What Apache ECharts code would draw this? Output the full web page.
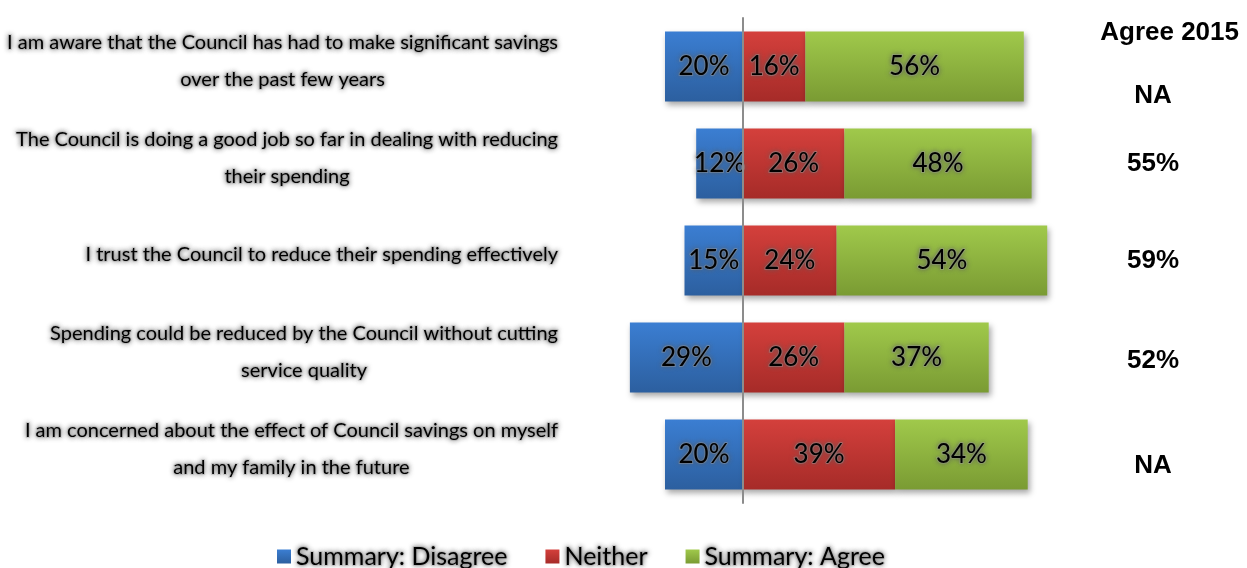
<!DOCTYPE html>
<html><head><meta charset="utf-8">
<script src="https://cdn.jsdelivr.net/npm/echarts@6/dist/echarts.min.js"></script>
<style>html,body{margin:0;padding:0;background:#fff}#c{width:1247px;height:568px}</style>
</head><body><div id="c"></div>
<script>
const categories = [
  'I am aware that the Council has had to make significant savings\nover the past few years',
  'The Council is doing a good job so far in dealing with reducing\ntheir spending',
  'I trust the Council to reduce their spending effectively',
  'Spending could be reduced by the Council without cutting\nservice quality',
  'I am concerned about the effect of Council savings on myself\nand my family in the future'
];
const disagree = [20, 12, 15, 29, 20];
const neither = [16, 26, 24, 26, 39];
const agree = [56, 48, 54, 37, 34];
const agree2015 = ['NA', '55%', '59%', '52%', 'NA'];
const seriesNames = ['Summary: Disagree', 'Neither', 'Summary: Agree'];
const agree2015Title = 'Agree 2015';

// styling (not data)
const rightLabelShift = [29, 0, 0, 3, 11];
const glow = {
  textShadowColor: 'rgba(90,90,90,0.85)', textShadowBlur: 5,
  textBorderColor: 'rgba(175,175,175,0.4)', textBorderWidth: 2
};
const FONT = 'Lato';

function grad(top, bottom) {
  return new echarts.graphic.LinearGradient(0, 0, 0, 1, [
    { offset: 0, color: top }, { offset: 1, color: bottom }
  ]);
}
const colors = [grad('#3b7ed2', '#2c5f9f'), grad('#d4403c', '#a62b28'), grad('#a0c94b', '#7a9b33')];

const chart = echarts.init(document.getElementById('c'), null, { renderer: 'canvas' });

const barItem = (c) => ({
  color: c,
  shadowColor: 'rgba(0,0,0,0.35)', shadowBlur: 6, shadowOffsetX: 2, shadowOffsetY: 3
});
const barLabel = {
  show: true, position: 'inside', color: '#000', fontFamily: FONT, fontSize: 26,
  formatter: p => Math.abs(p.value) + '%', ...glow
};

const rightRich = {};
rightLabelShift.forEach((s, i) => {
  rightRich['r' + i] = {
    fontFamily: 'Liberation Sans', fontSize: 26, fontWeight: 'bold', color: '#000',
    padding: [s * 2, 0, 0, 0]
  };
});

const option = {
  animation: false,
  backgroundColor: '#fff',
  title: {
    text: agree2015Title, right: 3, top: 15,
    textStyle: { fontFamily: 'Liberation Sans', fontSize: 26, fontWeight: 'bold', color: '#000' }
  },
  legend: {
    data: seriesNames, left: 272, top: 538, itemWidth: 14, itemHeight: 14, itemGap: 37,
    icon: 'rect',
    textStyle: { fontFamily: FONT, fontSize: 25, color: '#000', ...glow }
  },
  grid: { left: 626, right: 192, top: 18, bottom: 65, outerBoundsMode: 'none', containLabel: false },
  xAxis: { type: 'value', min: -30, max: 80, show: false },
  yAxis: [
    {
      type: 'category', inverse: true, data: categories, z: 10,
      axisLine: { show: true, onZero: true, lineStyle: { color: '#8c8c8c', width: 2 } },
      axisTick: { show: false },
      axisLabel: {
        margin: 68, align: 'right', padding: [0, 0, 11, 0],
        formatter: v => v.split('\n').map(s => '{c|' + s + '}').join('\n'),
        rich: { c: { align: 'center', fontFamily: FONT, fontSize: 20, lineHeight: 37, color: '#000', ...glow } }
      }
    },
    {
      type: 'category', inverse: true, position: 'right', data: agree2015,
      axisLine: { show: false, onZero: false }, axisTick: { show: false },
      axisLabel: {
        margin: 98, align: 'center',
        formatter: (v, i) => '{r' + i + '|' + v + '}',
        rich: rightRich
      }
    }
  ],
  series: [
    { name: seriesNames[0], type: 'bar', stack: 'total', barWidth: 70, data: disagree.map(v => -v),
      itemStyle: barItem(colors[0]), label: barLabel },
    { name: seriesNames[1], type: 'bar', stack: 'total', barWidth: 70, data: neither,
      itemStyle: barItem(colors[1]), label: barLabel },
    { name: seriesNames[2], type: 'bar', stack: 'total', barWidth: 70, data: agree,
      itemStyle: barItem(colors[2]), label: barLabel }
  ]
};
chart.setOption(option);
</script>
</body></html>
